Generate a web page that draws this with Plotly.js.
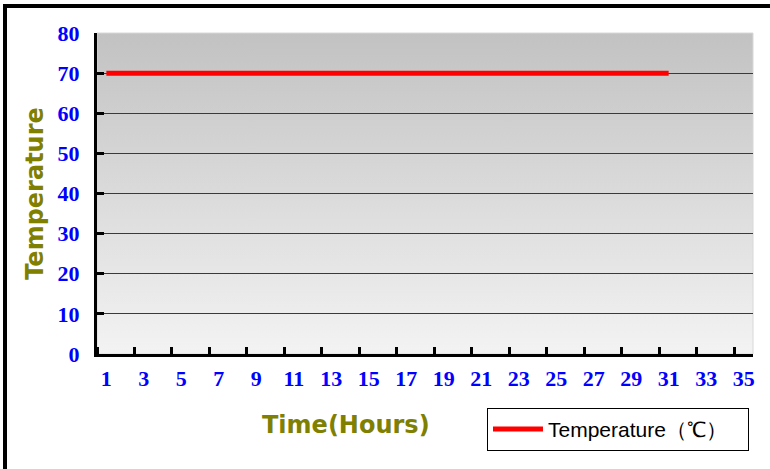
<!DOCTYPE html>
<html>
<head>
<meta charset="utf-8">
<script src="https://cdn.plot.ly/plotly-3.0.1.min.js"></script>
<style>
  html, body { margin: 0; padding: 0; background: #ffffff; overflow: hidden; }
  #wrap { position: relative; width: 770px; height: 469px; }
  #chart { position: absolute; left: 0; top: 0; width: 770px; height: 469px; }
  #frame { position: absolute; left: 3px; top: 4px; width: 800px; height: 461px;
           border-top: 4px solid #000; border-left: 4px solid #000; border-bottom: 2px solid #333;
           pointer-events: none; }
</style>
</head>
<body>
<div id="wrap">
  <div id="chart"></div>
  <div id="frame"></div>
</div>
<script>
// ---- data ----
const hours = [1,2,3,4,5,6,7,8,9,10,11,12,13,14,15,16,17,18,19,20,21,22,23,24,25,26,27,28,29,30,31];
const temperature = [70,70,70,70,70,70,70,70,70,70,70,70,70,70,70,70,70,70,70,70,70,70,70,70,70,70,70,70,70,70,70];
const xTickVals = [1,3,5,7,9,11,13,15,17,19,21,23,25,27,29,31,33,35];
const xTickText = ['1','3','5','7','9','11','13','15','17','19','21','23','25','27','29','31','33','35'];
const yTickVals = [0,10,20,30,40,50,60,70,80];
const seriesName = 'Temperature（℃）';
const xTitle = 'Time(Hours)';
const yTitle = 'Temperature';

const gradSvg = '<svg xmlns="http://www.w3.org/2000/svg" width="100" height="100" preserveAspectRatio="none">' +
  '<defs><linearGradient id="g" x1="0" y1="0" x2="0" y2="1">' +
  '<stop offset="0" stop-color="#c2c2c2"/><stop offset="1" stop-color="#f3f3f3"/>' +
  '</linearGradient></defs><rect width="100" height="100" fill="url(#g)"/></svg>';
const gradUri = 'data:image/svg+xml;charset=utf-8,' + encodeURIComponent(gradSvg);

const tickFont = { family: 'Liberation Serif, Times New Roman, serif', size: 22, color: '#0000ff', weight: 'bold' };
const titleFont = { family: 'DejaVu Sans, Arial, sans-serif', size: 24, color: '#808000', weight: 'bold' };

const traces = [{
  type: 'scatter',
  mode: 'lines',
  x: hours,
  y: temperature,
  name: seriesName,
  line: { color: '#ff0000', width: 5 },
  showlegend: true
}];

const layout = {
  width: 770,
  height: 469,
  margin: { l: 97, r: 17, t: 33, b: 115, pad: 0 },
  paper_bgcolor: '#ffffff',
  plot_bgcolor: 'rgba(0,0,0,0)',
  showlegend: true,
  images: [{
    source: gradUri, xref: 'paper', yref: 'paper', x: 0, y: 1, sizex: 1, sizey: 1,
    xanchor: 'left', yanchor: 'top', sizing: 'stretch', layer: 'below'
  }],
  shapes: [{
    type: 'rect', xref: 'paper', yref: 'paper', x0: 0, x1: 1, y0: 0, y1: 1,
    line: { color: '#d8d8d8', width: 1 }, layer: 'below'
  }],
  xaxis: {
    range: [0.5, 35.5],
    tickmode: 'array',
    tickvals: xTickVals,
    ticktext: xTickText,
    ticks: '',
    tickfont: tickFont,
    ticklabelstandoff: 3,
    showgrid: false,
    zeroline: false,
    showline: true,
    linecolor: '#000000',
    linewidth: 3,
    minor: { tickmode: 'linear', tick0: 2.5, dtick: 2, ticks: 'inside', ticklen: 7, tickwidth: 3, tickcolor: '#000000', showgrid: false },
    fixedrange: true
  },
  yaxis: {
    range: [0, 80],
    tickmode: 'array',
    tickvals: yTickVals,
    ticks: 'inside',
    ticklen: 7,
    tickwidth: 3,
    tickcolor: '#000000',
    tickfont: tickFont,
    ticklabelstandoff: 10,
    showgrid: true,
    gridcolor: '#3a3a3a',
    gridwidth: 1,
    zeroline: false,
    showline: true,
    linecolor: '#000000',
    linewidth: 3,
    title: { text: yTitle, font: titleFont, standoff: 8 },
    fixedrange: true
  },
  annotations: [{
    text: xTitle, xref: 'paper', yref: 'paper', x: 0.38, y: -0.222,
    xanchor: 'center', yanchor: 'middle', showarrow: false, font: titleFont
  }],
  legend: {
    orientation: 'h',
    entrywidth: 195,
    entrywidthmode: 'pixels',
    x: 0.5945, y: -0.168, xanchor: 'left', yanchor: 'top',
    bgcolor: '#ffffff', bordercolor: '#000000', borderwidth: 1,
    font: { family: 'Liberation Sans, Arial, sans-serif', size: 21, color: '#000000' },
    itemwidth: 50
  }
};

Plotly.newPlot('chart', traces, layout, { displayModeBar: false, staticPlot: true });
</script>
</body>
</html>
